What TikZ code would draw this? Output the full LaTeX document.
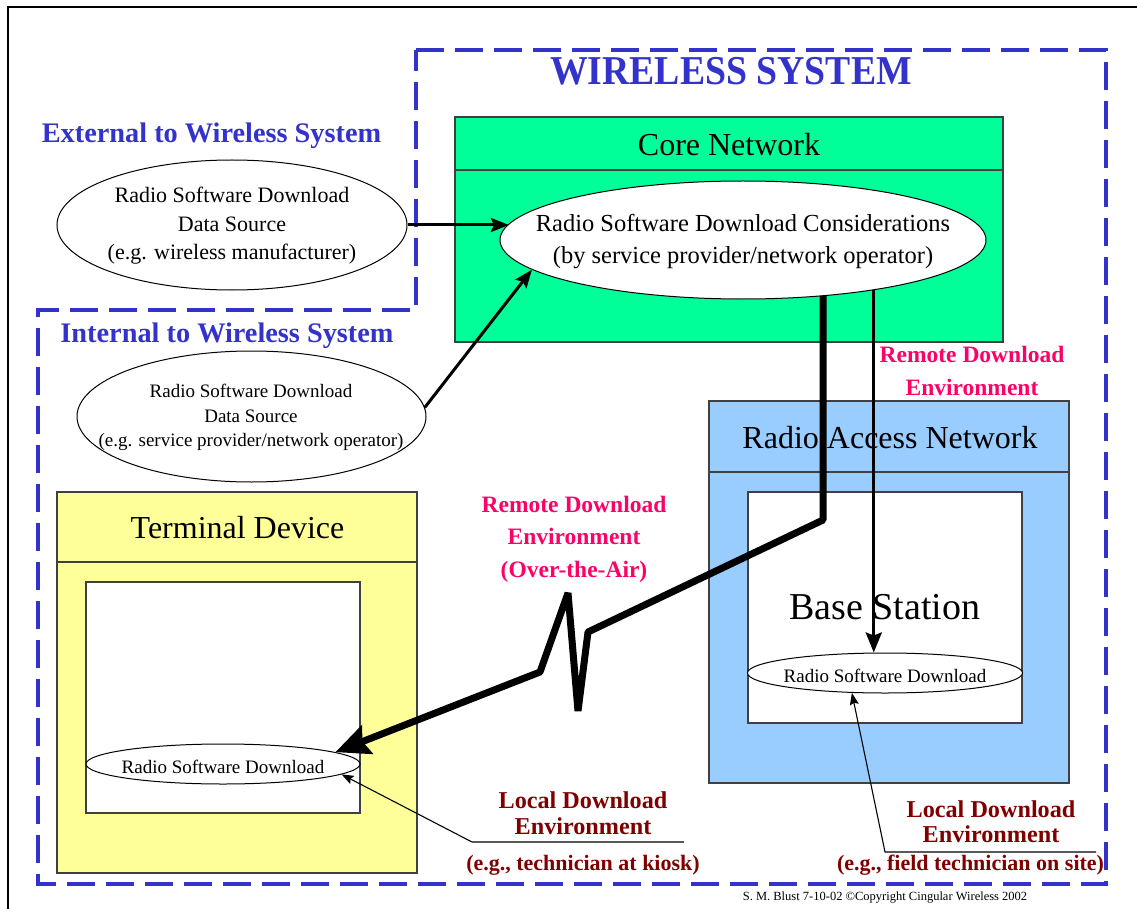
\documentclass[tikz,border=0pt]{standalone}
\usepackage{fontspec}
\setmainfont{Liberation Serif}
\usetikzlibrary{shapes.geometric,arrows.meta}
\definecolor{wsblue}{HTML}{3333CC}
\definecolor{rdpink}{HTML}{FF0066}
\definecolor{ldred}{HTML}{800000}
\definecolor{coregreen}{HTML}{00FF99}
\definecolor{ranblue}{HTML}{99CCFF}
\definecolor{termyellow}{HTML}{FFFF99}
\definecolor{edgegray}{HTML}{404040}
\newcommand\fsz[2]{\fontsize{#1}{#2}\selectfont}
\begin{document}
\begin{tikzpicture}[x=1pt,y=-1pt,
  box/.style={draw=edgegray, line width=1.2pt, inner sep=0pt, rectangle},
  divider/.style={draw=edgegray, line width=1.2pt},
  ellbox/.style={draw=black, line width=1pt, ellipse, inner sep=0pt, fill=white},
  txt/.style={inner sep=0pt, align=center},
  wsdash/.style={draw=wsblue, line width=4pt, dash pattern=on 28pt off 11pt},
  bluelabel/.style={txt, text=wsblue, font=\bfseries\fsz{28.3}{33}},
  pinklabel/.style={txt, text=rdpink, font=\bfseries\fsz{23.5}{32.5}},
  redlabel/.style={txt, text=ldred, font=\bfseries\fsz{24.2}{25.5}},
  mid/.style={line width=3pt, -{Stealth[length=18pt,width=14pt,inset=3pt]}},
  thick/.style={line width=7pt, line join=bevel, -{Stealth[length=34pt,width=30pt,inset=5pt]}},
  thinarr/.style={line width=1.1pt, -{Stealth[length=12pt,width=9pt,inset=2pt]}}
]
\useasboundingbox (0,0) rectangle (1137,909);
\fill[white] (0,0) rectangle (1137,909);
\draw[line width=2pt] (1137,7) -- (8,7) -- (8,909);

% dashed wireless system outline
\draw[wsdash] (416,50) -- (1106,50) -- (1106,884) -- (38,884) -- (38,310) -- (416,310) -- cycle;

\node[txt, text=wsblue, font=\bfseries\fsz{41}{41}] (wstitle) at (731,71.5) {\scalebox{0.92}[1]{WIRELESS SYSTEM}};
\node[bluelabel] (extlabel) at (211.5,136) {External to Wireless System};
\node[bluelabel] (intlabel) at (227,336) {Internal to Wireless System};

% Core network
\node[box, fill=coregreen, minimum width=548pt, minimum height=225pt] (corebox) at (729,229.5) {};
\draw[divider] (corebox.west |- 0,170) -- (corebox.east |- 0,170);
\node[txt, font=\fsz{32}{32}] (coretitle) at (729,145) {Core Network};
\node[ellbox, minimum width=486pt, minimum height=118pt] (core) at (743,240) {};
\node[txt, font=\fsz{24.5}{32}] (coretext) at (743,242) {Radio Software Download Considerations\\(by service provider/network operator)};

% External source
\node[ellbox, minimum width=350pt, minimum height=130pt] (ext) at (232,225) {};
\node[txt, font=\fsz{22}{28.5}] (exttext) at (232,226) {Radio Software Download\\Data Source\\(e.g. wireless manufacturer)};

% Internal source
\node[ellbox, minimum width=349pt, minimum height=131pt] (int) at (251.5,416.5) {};
\node[txt, font=\fsz{19}{24.5}] (inttext) at (251,417.5) {Radio Software Download\\Data Source\\(e.g. service provider/network operator)};

% Radio access network
\node[box, fill=ranblue, minimum width=360pt, minimum height=382pt] (ranbox) at (889,592) {};
\draw[divider] (ranbox.west |- 0,472) -- (ranbox.east |- 0,472);
\node[txt, font=\fsz{32}{32}] (rantitle) at (890,437.5) {Radio Access Network};
\node[box, fill=white, minimum width=274pt, minimum height=231pt] (bsbox) at (885,607.5) {};
\node[txt, font=\fsz{38}{38}] (bstitle) at (885,607.5) {Base Station};
\node[ellbox, minimum width=275pt, minimum height=40pt] (bs) at (885,673) {};
\node[txt, font=\fsz{19}{19}] (bstext) at (885,676) {Radio Software Download};

% Terminal device
\node[box, fill=termyellow, minimum width=360pt, minimum height=381pt] (termbox) at (237,682.5) {};
\draw[divider] (termbox.west |- 0,562) -- (termbox.east |- 0,562);
\node[txt, font=\fsz{32}{32}] (termtitle) at (237.5,527.5) {Terminal Device};
\node[box, fill=white, minimum width=274pt, minimum height=231pt] (termin) at (223,697.5) {};
\node[ellbox, minimum width=274pt, minimum height=40pt] (term) at (223,764) {};
\node[txt, font=\fsz{19}{19}] (termtext) at (223,767) {Radio Software Download};

% labels
\node[pinklabel] (rdright) at (972,371) {Remote Download\\Environment};
\node[pinklabel] (rdair) at (574,539) {Remote Download\\Environment\\(Over-the-Air)};
\node[redlabel] (ldleft) at (583,813) {Local Download\\Environment};
\node[txt, text=ldred, font=\bfseries\fsz{22}{22}] (egleft) at (583,865) {(e.g., technician at kiosk)};
\node[redlabel] (ldright) at (991,821.5) {Local Download\\Environment};
\node[txt, text=ldred, font=\bfseries\fsz{22}{22}] (egright) at (970.5,865) {(e.g., field technician on site)};
\node[txt, font=\fsz{12.5}{12.5}] (copy) at (885,898) {S. M. Blust 7-10-02 \textcopyright Copyright Cingular Wireless 2002};

% connectors
\draw[mid] (ext.east) -- (ext.east -| core.176);
\draw[mid] (int.3) -- (core.188);
\coordinate (z1) at (823,520);
\coordinate (z2) at (588,632);
\coordinate (z3) at (578,711);
\coordinate (z4) at (568,593);
\coordinate (z5) at (540,672);
\draw[thick] (core.-34.5 -| z1) -- (z1) -- (z2) -- (z3) -- (z4) -- (z5) -- (term.6);
\draw[line width=3.3pt, -{Stealth[length=20pt,width=16pt,inset=3pt]}] (core.-21.3) -- (core.-21.3 |- bs.north);
\coordinate (ulL1) at (684,842);
\coordinate (ulL2) at (472,842);
\draw[thinarr] (ulL1) -- (ulL2) -- (term.-5);
\coordinate (ulR1) at (1096,852);
\coordinate (ulR2) at (885,852);
\draw[thinarr] (ulR1) -- (ulR2) -- (bs.211);
\end{tikzpicture}
\end{document}
